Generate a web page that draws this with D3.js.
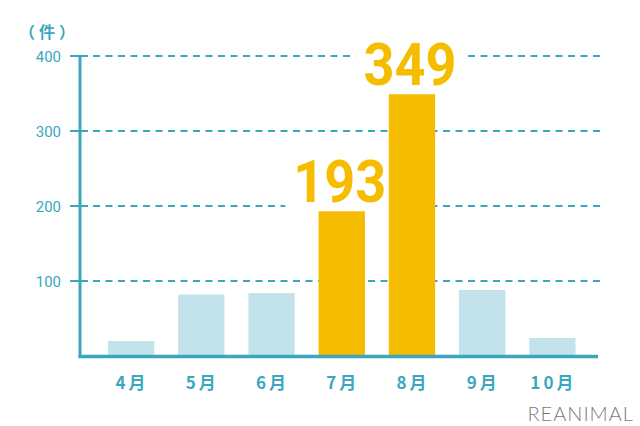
<!DOCTYPE html>
<html><head><meta charset="utf-8">
<script src="https://cdn.jsdelivr.net/npm/d3@7"></script>
<style>html,body{margin:0;padding:0;background:#fff;}svg{display:block;}</style>
</head><body>
<svg id="c" width="640" height="426"></svg>
<script>
const months = ["4月","5月","6月","7月","8月","9月","10月"];
const counts = [20, 82, 84, 193, 349, 88, 24];
const highlighted = [false, false, false, true, true, false, false];
const yTicks = [100, 200, 300, 400];
const unitLabel = "（件）";
const brand = "REANIMAL";

const teal = "#3aa7bf", lightBlue = "#c3e3ec", gold = "#f6bd00";
const svg = d3.select("#c");
const x = d3.scaleBand().domain(months).range([96, 587.5]).paddingInner(0.34).paddingOuter(0.17);
const y = d3.scaleLinear().domain([0, 400]).range([356, 56]);
const data = months.map((m, i) => ({m, v: counts[i], h: highlighted[i]}));

// gridlines
const grid = svg.append("g");
yTicks.forEach(t => {
  grid.append("line").attr("x1", 93).attr("x2", 601).attr("y1", y(t)).attr("y2", y(t))
    .attr("stroke", teal).attr("stroke-width", 2).attr("stroke-dasharray", "7,5.5");
  grid.append("line").attr("x1", 70).attr("x2", 88).attr("y1", y(t)).attr("y2", y(t))
    .attr("stroke", teal).attr("stroke-width", 2);
});

// y axis labels
const yAxis = d3.axisLeft(y).tickValues(yTicks).tickSize(0).tickPadding(0);
const ga = svg.append("g").attr("transform", "translate(61,0)").call(yAxis);
ga.select(".domain").remove();
ga.selectAll("text").attr("fill", teal).attr("font-family", "Roboto, 'Noto Sans', sans-serif")
  .attr("font-size", 15).attr("dy", "0.35em");

svg.append("text").attr("x", 49).attr("y", 38).attr("text-anchor", "middle")
  .attr("fill", teal).attr("font-family", "'Noto Sans CJK JP', sans-serif").attr("font-weight", "bold")
  .attr("font-size", 16).attr("letter-spacing", 4).text(unitLabel);

const bgLayer = svg.append("g");
const barLayer = svg.append("g");
const textLayer = svg.append("g");

barLayer.selectAll("rect").data(data).join("rect")
  .attr("x", d => x(d.m)).attr("width", x.bandwidth())
  .attr("y", d => y(d.v)).attr("height", d => y(0) - y(d.v))
  .attr("fill", d => d.h ? gold : lightBlue);

data.filter(d => d.h).forEach(d => {
  const cx = x(d.m) + x.bandwidth() / 2 - 2;
  const base = y(d.v) - 9;
  const t = textLayer.append("text").attr("x", 0).attr("y", 0).attr("text-anchor", "middle")
    .attr("transform", `translate(${cx},${base}) scale(0.9,1)`)
    .attr("fill", gold).attr("font-family", "Roboto, sans-serif")
    .attr("font-weight", "bold").attr("font-size", 60).text(d.v);
  const w = t.node().getBBox().width * 0.9;
  bgLayer.append("rect").attr("fill", "#fff")
    .attr("x", cx - w / 2 - 8).attr("width", w + 16)
    .attr("y", base - 46).attr("height", 46 + 9);
});

// axes lines
svg.append("line").attr("x1", 80).attr("x2", 80).attr("y1", y(400)).attr("y2", y(0) + 1.5)
  .attr("stroke", teal).attr("stroke-width", 3);
svg.append("line").attr("x1", 78.5).attr("x2", 598).attr("y1", y(0) + 0.5).attr("y2", y(0) + 0.5)
  .attr("stroke", teal).attr("stroke-width", 3.5);

// x labels
svg.append("g").selectAll("text").data(months).join("text")
  .attr("x", d => x(d) + x.bandwidth() / 2 + 1).attr("y", 389).attr("text-anchor", "middle")
  .attr("fill", teal).attr("font-family", "'Noto Sans CJK JP', sans-serif").attr("font-weight", "bold")
  .attr("font-size", 17).attr("letter-spacing", 3).text(d => d);

svg.append("text").attr("x", 634).attr("y", 421).attr("text-anchor", "end")
  .attr("fill", "#7a7a7a").attr("font-family", "Lato, sans-serif").attr("font-weight", 300)
  .attr("font-size", 20).attr("letter-spacing", 1).text(brand);
</script>
</body></html>
